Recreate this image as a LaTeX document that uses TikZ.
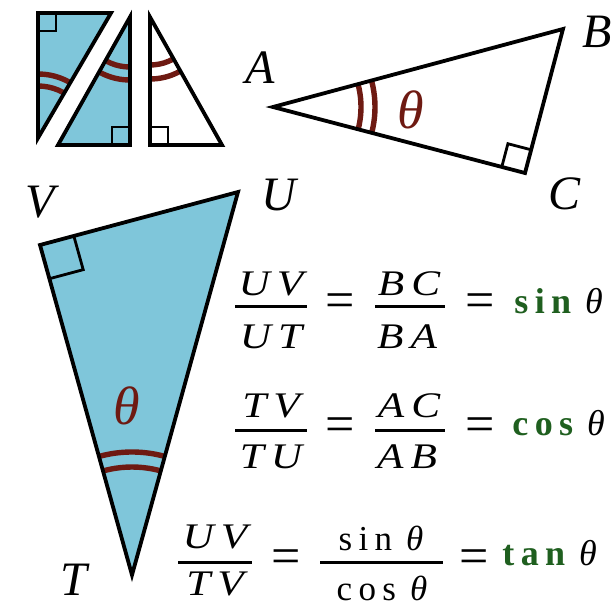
\documentclass[tikz,border=0pt]{standalone}
\usepackage{fontspec}
\setmainfont{Liberation Serif}
\newfontfamily\widefont[FakeStretch=1.2]{Liberation Serif}
\usetikzlibrary{calc}
\definecolor{skyfill}{HTML}{7FC6DA}
\definecolor{arcred}{HTML}{6E1A12}
\definecolor{fngreen}{HTML}{1F5F1F}
\newcommand\lsp{\hspace{3.2pt}}
\newcommand\fsp{\hspace{3.5pt}}
\begin{document}
\begin{tikzpicture}[x=0.5pt,y=-0.5pt,
  edge/.style={line width=1.9pt, line join=miter},
  rmark/.style={line width=1.4pt},
  arcmark/.style={draw=arcred, line width=2.7pt},
  vlabel/.style={font=\fontsize{24}{28}\selectfont\itshape, inner sep=0pt},
  thlabel/.style={font=\fontsize{27}{30}\selectfont\itshape, text=arcred, inner sep=0pt},
  fr/.style={font=\widefont\itshape\fontsize{18}{20}\selectfont, inner sep=0pt, anchor=base},
  frn/.style={font=\fontsize{17.5}{20}\selectfont, inner sep=0pt, anchor=base},
  eqs/.style={font=\fontsize{26}{28}\selectfont, inner sep=0pt},
  fn/.style={font=\fontsize{18}{20}\selectfont, inner sep=0pt, anchor=base west},
  bar/.style={line width=1.5pt}]
\useasboundingbox (0,0) rectangle (615,605);
\fill[white] (0,0) rectangle (615,605);

% ---- small triangles ----
\coordinate (a1) at (38,13); \coordinate (a2) at (111,13); \coordinate (a3) at (38,138);
\coordinate (b1) at (130,17); \coordinate (b2) at (58,145); \coordinate (b3) at (130,145);
\coordinate (c1) at (150,17); \coordinate (c2) at (150,145); \coordinate (c3) at (222,145);

\fill[skyfill] (a1) -- (a2) -- (a3) -- cycle;
\fill[skyfill] (b1) -- (b2) -- (b3) -- cycle;
\begin{scope}
  \clip (a1) -- (a2) -- (a3) -- cycle;
  \draw[arcmark] (a3) circle[radius=64];
  \draw[arcmark] (a3) circle[radius=52];
\end{scope}
\begin{scope}
  \clip (b1) -- (b2) -- (b3) -- cycle;
  \draw[arcmark] (b1) circle[radius=50];
  \draw[arcmark] (b1) circle[radius=63];
\end{scope}
\begin{scope}
  \clip (c1) -- (c2) -- (c3) -- cycle;
  \draw[arcmark] (c1) circle[radius=48];
  \draw[arcmark] (c1) circle[radius=62];
\end{scope}
\draw[edge] (a1) -- (a2) -- (a3) -- cycle;
\draw[edge] (b1) -- (b2) -- (b3) -- cycle;
\draw[edge] (c1) -- (c2) -- (c3) -- cycle;
\draw[rmark] (38,31) -- (56,31) -- (56,13);
\draw[rmark] (112,145) -- (112,127) -- (130,127);
\draw[rmark] (168,145) -- (168,127) -- (150,127);

% ---- triangle ABC ----
\coordinate (A) at (273,107); \coordinate (B) at (563,29); \coordinate (C) at (525,173);
\begin{scope}
  \clip (A) -- (B) -- (C) -- cycle;
  \draw[arcmark] (A) circle[radius=88];
  \draw[arcmark] (A) circle[radius=102];
\end{scope}
\draw[edge] (A) -- (B) -- (C) -- cycle;
\coordinate (Ca) at ($(C)!12pt!(A)$);
\coordinate (Cb) at ($(C)!12pt!(B)$);
\draw[rmark] (Ca) -- ($(Ca)+(Cb)-(C)$) -- (Cb);
\node[thlabel] (thA) at (411,110) {θ};
\node[vlabel] (lA) at (260,68) {A};
\node[vlabel] (lB) at (597,32) {B};
\node[vlabel] (lC) at (564,194) {C};

% ---- triangle TUV ----
\coordinate (T) at (132,575); \coordinate (U) at (238,192); \coordinate (V) at (40,245);
\fill[skyfill] (T) -- (U) -- (V) -- cycle;
\begin{scope}
  \clip (T) -- (U) -- (V) -- cycle;
  \draw[arcmark] (T) circle[radius=123];
  \draw[arcmark] (T) circle[radius=108];
\end{scope}
\draw[edge] (T) -- (U) -- (V) -- cycle;
\coordinate (Vu) at ($(V)!17.5pt!(U)$);
\coordinate (Vt) at ($(V)!17.5pt!(T)$);
\draw[rmark] (Vu) -- ($(Vu)+(Vt)-(V)$) -- (Vt);
\node[thlabel] (thT) at (127,406) {θ};
\node[vlabel] (lU) at (279,195) {U};
\node[vlabel] (lV) at (40,202) {V};
\node[vlabel] (lT) at (74,580) {T};

% ---- row 1 ----
\node[fr] (r1n1) at (271,295) {U\fsp V};
\draw[bar] (235,306) -- (307,306);
\node[fr] (r1d1) at (271,348) {U\fsp T};
\node[eqs] (r1e1) at (340,306) {=};
\node[fr] (r1n2) at (409,295) {B\fsp C};
\draw[bar] (375,306) -- (445,306);
\node[fr] (r1d2) at (407,348) {B\fsp A};
\node[eqs] (r1e2) at (480,306) {=};
\node[fn] (r1f) at (514,313) {{\color{fngreen}\bfseries s\lsp i\lsp n}\hspace{7pt}\textit{θ}};

% ---- row 2 ----
\node[fr] (r2n1) at (271,417) {T\fsp V};
\draw[bar] (235,430) -- (307,430);
\node[fr] (r2d1) at (271,468) {T\fsp U};
\node[eqs] (r2e1) at (340,430) {=};
\node[fr] (r2n2) at (409,417) {A\fsp C};
\draw[bar] (375,430) -- (445,430);
\node[fr] (r2d2) at (407,468) {A\fsp B};
\node[eqs] (r2e2) at (480,430) {=};
\node[fn] (r2f) at (512,435) {{\color{fngreen}\bfseries c\lsp o\lsp s}\hspace{7pt}\textit{θ}};

% ---- row 3 ----
\node[fr] (r3n1) at (215,548) {U\fsp V};
\draw[bar] (178,562) -- (252,562);
\node[fr] (r3d1) at (215,595) {T\fsp V};
\node[eqs] (r3e1) at (286,562) {=};
\node[frn] (r3n2) at (381,550) {s\lsp i\lsp n\hspace{7pt}\textit{θ}};
\draw[bar] (320,562) -- (443,562);
\node[frn] (r3d2) at (382,600) {c\lsp o\lsp s\hspace{7pt}\textit{θ}};
\node[eqs] (r3e2) at (474,562) {=};
\node[fn] (r3f) at (502,565) {{\color{fngreen}\bfseries t\lsp a\lsp n}\hspace{7pt}\textit{θ}};
\end{tikzpicture}
\end{document}
